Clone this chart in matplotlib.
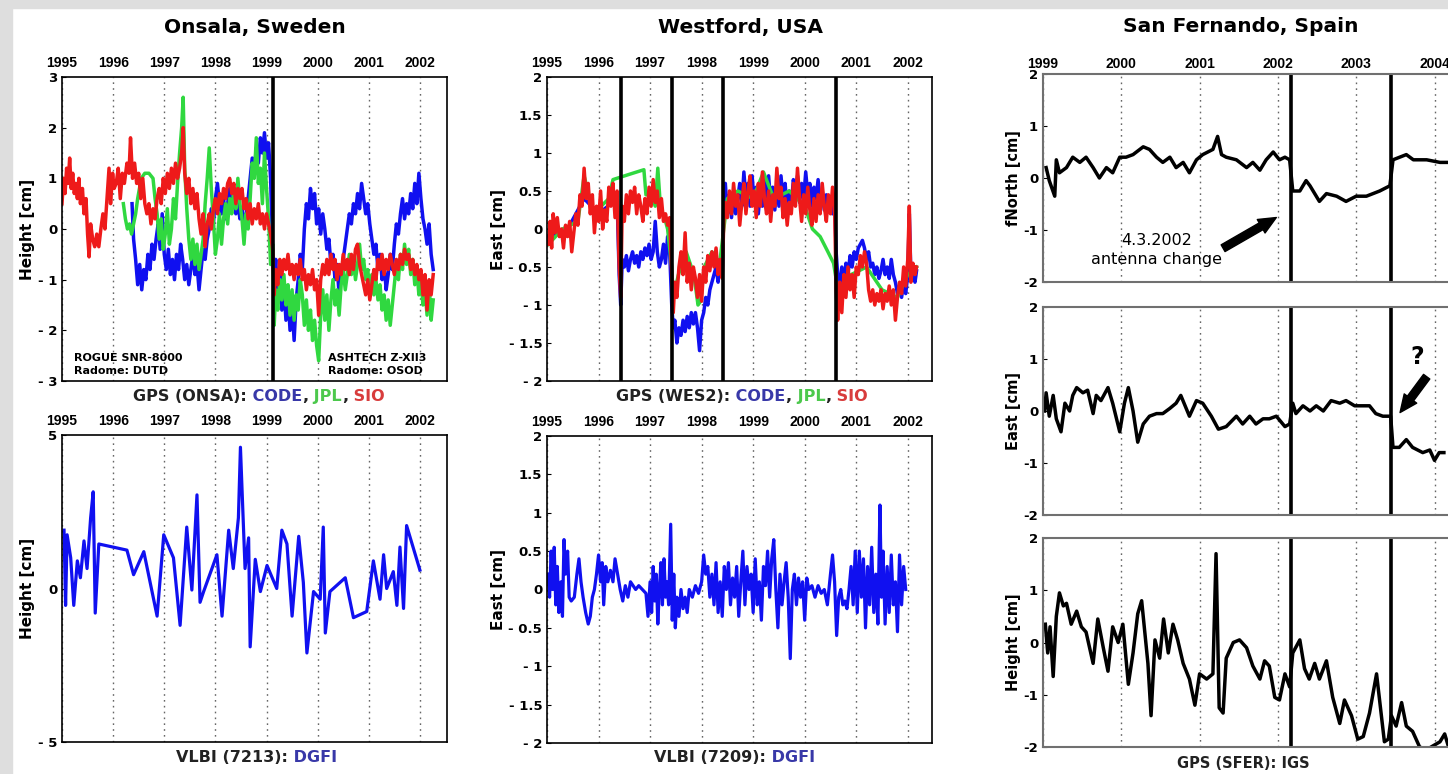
import matplotlib
matplotlib.use('Agg')
import matplotlib.pyplot as plt
from matplotlib.offsetbox import TextArea, HPacker, AnnotationBbox
from matplotlib.patches import Rectangle

# ---------------- data ----------------
# Onsala GPS height [cm]
onsa_sio_t = [1995.00, 1995.03, 1995.06, 1995.09, 1995.12, 1995.15, 1995.18, 1995.21, 1995.24, 1995.27,
              1995.30, 1995.33, 1995.36, 1995.40, 1995.43, 1995.47, 1995.50, 1995.53, 1995.56, 1995.60,
              1995.64, 1995.68, 1995.72, 1995.76, 1995.80, 1995.84, 1995.88, 1995.92, 1995.95, 1995.99,
              1996.02, 1996.06, 1996.10, 1996.14, 1996.18, 1996.22, 1996.27, 1996.31, 1996.34, 1996.38,
              1996.42, 1996.46, 1996.50, 1996.54, 1996.58, 1996.62, 1996.66, 1996.70, 1996.74, 1996.78,
              1996.82, 1996.86, 1996.90, 1996.94, 1996.98, 1997.02, 1997.06, 1997.10, 1997.14, 1997.18,
              1997.22, 1997.26, 1997.30, 1997.34, 1997.37, 1997.40, 1997.44, 1997.48, 1997.52, 1997.56,
              1997.60, 1997.64, 1997.68, 1997.72, 1997.76, 1997.80, 1997.84, 1997.88, 1997.92, 1997.96,
              1998.00, 1998.04, 1998.08, 1998.12, 1998.16, 1998.20, 1998.24, 1998.28, 1998.32, 1998.36,
              1998.40, 1998.44, 1998.48, 1998.52, 1998.56, 1998.60, 1998.64, 1998.68, 1998.72, 1998.76,
              1998.80, 1998.84, 1998.88, 1998.92, 1998.96, 1999.00, 1999.04, 1999.08, 1999.12, 1999.15,
              1999.18, 1999.22, 1999.26, 1999.30, 1999.34, 1999.38, 1999.42, 1999.46, 1999.50, 1999.54,
              1999.58, 1999.62, 1999.66, 1999.70, 1999.74, 1999.78, 1999.82, 1999.86, 1999.90, 1999.94,
              1999.98, 2000.02, 2000.06, 2000.10, 2000.14, 2000.18, 2000.22, 2000.26, 2000.30, 2000.34,
              2000.38, 2000.42, 2000.46, 2000.50, 2000.54, 2000.58, 2000.62, 2000.66, 2000.70, 2000.74,
              2000.78, 2000.82, 2000.86, 2000.90, 2000.94, 2000.98, 2001.02, 2001.06, 2001.10, 2001.14,
              2001.18, 2001.22, 2001.26, 2001.30, 2001.34, 2001.38, 2001.42, 2001.46, 2001.50, 2001.54,
              2001.58, 2001.62, 2001.66, 2001.70, 2001.74, 2001.78, 2001.82, 2001.86, 2001.90, 2001.94,
              2001.98, 2002.02, 2002.06, 2002.10, 2002.14, 2002.18, 2002.22, 2002.26]
onsa_sio_v = [0.5, 1.0, 0.7, 1.2, 0.9, 1.4, 0.8, 1.1, 0.7, 0.9,
              0.6, 1.0, 0.5, 0.8, 0.3, 0.6, -0.1, -0.55, 0.1, -0.2,
              -0.35, -0.1, -0.35, 0.0, 0.3, 0.0, 0.6, 1.2, 0.5, 1.1,
              0.8, 0.9, 1.2, 0.6, 1.1, 0.9, 1.3, 1.1, 1.8, 1.0,
              1.3, 0.9, 1.1, 0.6, 1.0, 0.5, 0.3, 0.5, 0.1, 0.4,
              0.2, 0.6, 0.8, 0.5, 1.0, 0.7, 1.1, 0.8, 1.2, 0.9,
              1.3, 1.0, 1.2, 1.5, 2.0, 1.1, 0.7, 1.0, 0.5, 0.8,
              0.4, 0.7, 0.2, -0.1, 0.3, -0.35, 0.1, 0.3, 0.0, 0.4,
              0.6, 0.3, 0.7, 0.5, 0.8, 0.6, 0.9, 1.0, 0.7, 0.9,
              0.5, 0.8, 0.6, 0.8, 0.4, 0.6, 0.2, 0.5, 0.1, 0.4,
              0.2, 0.5, 0.1, 0.3, 0.0, 0.3, 0.1, -0.1, -0.4, -1.3,
              -0.8, -1.1, -0.6, -0.9, -0.6, -0.8, -0.5, -0.9, -0.7, -1.0,
              -0.7, -0.9, -0.6, -1.0, -0.8, -1.2, -0.9, -1.1, -0.8, -1.2,
              -1.0, -1.7, -1.0, -0.7, -0.9, -0.6, -0.9, -0.5, -0.8, -0.6,
              -1.0, -0.7, -0.9, -0.5, -0.8, -0.6, -0.9, -0.5, -0.8, -0.4,
              -0.3, -0.7, -0.9, -1.1, -1.3, -1.0, -1.4, -1.1, -0.8, -1.0,
              -0.6, -0.8, -0.5, -0.9, -0.6, -0.8, -0.5, -0.7, -0.9, -0.6,
              -0.8, -0.5, -0.7, -0.4, -0.6, -0.5, -0.8, -0.6, -0.9, -0.7,
              -1.0, -0.8, -1.3, -0.9, -1.6, -1.0, -1.3, -0.9]

onsa_code_t = [1996.37, 1996.40, 1996.44, 1996.48, 1996.52, 1996.56, 1996.60, 1996.64, 1996.68, 1996.72,
               1996.76, 1996.80, 1996.84, 1996.88, 1996.92, 1996.96, 1997.00, 1997.04, 1997.08, 1997.12,
               1997.16, 1997.20, 1997.24, 1997.28, 1997.32, 1997.36, 1997.40, 1997.44, 1997.48, 1997.52,
               1997.56, 1997.60, 1997.64, 1997.68, 1997.72, 1997.76, 1997.80, 1997.84, 1997.88, 1997.92,
               1997.96, 1998.00, 1998.04, 1998.08, 1998.12, 1998.16, 1998.20, 1998.24, 1998.28, 1998.32,
               1998.36, 1998.40, 1998.44, 1998.48, 1998.52, 1998.56, 1998.60, 1998.64, 1998.68, 1998.72,
               1998.76, 1998.80, 1998.84, 1998.88, 1998.92, 1998.96, 1999.00, 1999.04, 1999.08, 1999.12,
               1999.15, 1999.18, 1999.22, 1999.26, 1999.30, 1999.34, 1999.38, 1999.42, 1999.46, 1999.50,
               1999.54, 1999.58, 1999.62, 1999.66, 1999.70, 1999.74, 1999.78, 1999.82, 1999.86, 1999.90,
               1999.94, 1999.98, 2000.02, 2000.06, 2000.10, 2000.14, 2000.18, 2000.22, 2000.26, 2000.30,
               2000.34, 2000.38, 2000.42, 2000.46, 2000.50, 2000.54, 2000.58, 2000.62, 2000.66, 2000.70,
               2000.74, 2000.78, 2000.82, 2000.86, 2000.90, 2000.94, 2000.98, 2001.02, 2001.06, 2001.10,
               2001.14, 2001.18, 2001.22, 2001.26, 2001.30, 2001.34, 2001.38, 2001.42, 2001.46, 2001.50,
               2001.54, 2001.58, 2001.62, 2001.66, 2001.70, 2001.74, 2001.78, 2001.82, 2001.86, 2001.90,
               2001.94, 2001.98, 2002.02, 2002.06, 2002.10, 2002.14, 2002.18, 2002.22, 2002.26]
onsa_code_v = [0.5, -0.2, -0.6, -1.1, -0.7, -1.2, -0.8, -1.0, -0.5, -0.8,
               -0.3, -0.6, -0.2, 0.1, -0.4, 0.3, -0.5, -0.8, -0.4, -0.9,
               -0.6, -1.0, -0.5, -0.8, -0.3, -0.6, -1.0, -0.7, -1.1, -0.8,
               -0.5, -0.9, -0.7, -1.2, -0.8, -0.4, -0.6, -0.2, 0.0, 0.4,
               0.1, 0.6, 0.9, 0.5, 0.3, 0.6, 0.2, 0.5, 0.8, 0.4,
               0.7, 0.3, 0.5, 0.2, 0.4, 0.0, 0.3, 0.6, 1.0, 1.4,
               1.1, 1.6, 1.3, 1.8, 1.5, 1.9, 1.4, 1.7, 1.0, -0.5,
               -1.0, -0.6, -1.3, -0.9, -1.6, -1.1, -1.8, -1.3, -2.0, -1.5,
               -2.2, -1.4, -1.0, -0.5, -0.8, 0.0, 0.5, 0.2, 0.8, 0.4,
               0.7, 0.1, 0.4, -0.1, 0.3, 0.0, -0.4, -0.2, -0.7, -0.5,
               -1.0, -0.7, -1.3, -0.9, -0.6, -0.3, 0.0, 0.3, 0.1, 0.5,
               0.3, 0.7, 0.4, 0.9, 0.6, 0.3, 0.5, 0.1, -0.2, -0.5,
               -0.3, -0.8, -0.5, -1.0, -0.7, -1.2, -0.9, -0.5, -0.8, -0.3,
               0.1, -0.1, 0.3, 0.6, 0.2, 0.5, 0.3, 0.7, 0.4, 0.9,
               0.5, 1.1, 0.6, 0.2, 0.0, -0.3, 0.1, -0.5, -0.8]

onsa_jpl_t = [1996.20, 1996.24, 1996.28, 1996.32, 1996.36, 1996.40, 1996.44, 1996.48, 1996.55, 1996.62,
              1996.70, 1996.78, 1996.82, 1996.86, 1996.90, 1996.94, 1996.98, 1997.02, 1997.06, 1997.10,
              1997.14, 1997.18, 1997.22, 1997.26, 1997.30, 1997.34, 1997.37, 1997.40, 1997.44, 1997.48,
              1997.52, 1997.56, 1997.60, 1997.64, 1997.68, 1997.72, 1997.76, 1997.80, 1997.84, 1997.88,
              1997.92, 1997.96, 1998.00, 1998.04, 1998.08, 1998.12, 1998.16, 1998.20, 1998.24, 1998.28,
              1998.32, 1998.36, 1998.40, 1998.44, 1998.48, 1998.52, 1998.56, 1998.60, 1998.64, 1998.68,
              1998.72, 1998.76, 1998.80, 1998.84, 1998.88, 1998.92, 1998.96, 1999.00, 1999.04, 1999.08,
              1999.12, 1999.15, 1999.18, 1999.22, 1999.26, 1999.30, 1999.34, 1999.38, 1999.42, 1999.46,
              1999.50, 1999.54, 1999.58, 1999.62, 1999.66, 1999.70, 1999.74, 1999.78, 1999.82, 1999.86,
              1999.90, 1999.94, 1999.98, 2000.02, 2000.06, 2000.10, 2000.14, 2000.18, 2000.22, 2000.26,
              2000.30, 2000.34, 2000.38, 2000.42, 2000.46, 2000.50, 2000.54, 2000.58, 2000.62, 2000.66,
              2000.70, 2000.74, 2000.78, 2000.82, 2000.86, 2000.90, 2000.94, 2000.98, 2001.02, 2001.06,
              2001.10, 2001.14, 2001.18, 2001.22, 2001.26, 2001.30, 2001.34, 2001.38, 2001.42, 2001.46,
              2001.50, 2001.54, 2001.58, 2001.62, 2001.66, 2001.70, 2001.74, 2001.78, 2001.82, 2001.86,
              2001.90, 2001.94, 2001.98, 2002.02, 2002.06, 2002.10, 2002.14, 2002.18, 2002.22, 2002.26]
onsa_jpl_v = [0.5, 0.2, 0.0, 0.1, -0.1, 0.1, 0.3, 0.6, 1.0, 1.1,
              1.1, 1.0, 0.6, 0.3, -0.2, 0.2, -0.4, -0.1, 0.4, -0.3,
              0.0, 0.6, 0.2, 0.9, 1.5, 2.0, 2.6, 1.2, 0.4, -0.2,
              -0.6, -0.2, -0.7, -0.3, -0.8, -0.5, -0.2, 0.5, 1.0, 1.6,
              0.8, 0.2, -0.5, -0.2, 0.3, -0.3, 0.2, 0.5, 0.1, 0.6,
              0.3, 0.8, 0.4, 1.0, 0.5, 0.2, -0.3, 0.3, 0.0, 0.6,
              1.3, 1.0, 1.8, 0.9, 1.2, 0.5, 1.5, 0.8, 0.2, -0.7,
              -0.3, -1.9, -1.2, -1.6, -1.0, -1.4, -0.9, -1.5, -1.1, -1.7,
              -1.2, -1.8, -1.3, -1.6, -1.0, -1.3, -1.9, -1.4, -2.0, -1.6,
              -2.2, -1.8, -2.3, -2.6, -1.7, -1.2, -1.8, -1.3, -2.0, -1.4,
              -1.0, -1.5, -1.2, -1.7, -1.1, -0.8, -1.2, -0.9, -0.5, -0.9,
              -0.6, -1.0, -0.7, -0.3, -0.8, -0.6, -1.0, -0.8, -1.2, -0.9,
              -1.3, -1.0, -1.4, -1.1, -1.6, -1.3, -1.8, -1.4, -1.9, -1.5,
              -1.1, -0.7, -1.0, -0.5, -0.8, -0.3, -0.7, -0.4, -0.9, -0.6,
              -1.1, -0.8, -1.3, -1.0, -1.5, -1.2, -1.7, -1.1, -1.8, -1.4]

# Onsala VLBI height [cm]
onsa_vlbi_t = [1995.04, 1995.07, 1995.10, 1995.17, 1995.23, 1995.30, 1995.36, 1995.43, 1995.49, 1995.56,
               1995.61, 1995.65, 1995.72, 1996.27, 1996.40, 1996.60, 1996.86, 1996.99, 1997.18, 1997.31,
               1997.44, 1997.54, 1997.64, 1997.70, 1997.77, 1998.03, 1998.13, 1998.26, 1998.35, 1998.45,
               1998.49, 1998.58, 1998.65, 1998.68, 1998.78, 1998.88, 1999.01, 1999.20, 1999.30, 1999.40,
               1999.50, 1999.63, 1999.72, 1999.79, 1999.92, 2000.05, 2000.11, 2000.15, 2000.24, 2000.54,
               2000.70, 2000.96, 2001.09, 2001.22, 2001.29, 2001.35, 2001.48, 2001.55, 2001.61, 2001.68,
               2001.74, 2002.00]
onsa_vlbi_v = [1.9, -0.55, 1.75, 1.0, -0.55, 0.9, 0.35, 1.55, 0.65, 2.3,
               3.15, -0.8, 1.45, 1.25, 0.45, 1.2, -0.9, 1.75, 1.0, -1.2,
               2.0, -0.05, 3.05, -0.45, -0.1, 1.1, -0.9, 1.9, 0.65, 2.3,
               4.6, 0.65, 1.65, -1.9, 0.95, -0.1, 0.75, 0.0, 1.9, 1.45,
               -0.9, 1.7, 0.2, -2.1, -0.1, -0.35, 2.0, -1.45, -0.1, 0.35,
               -0.95, -0.75, 0.9, -0.35, 1.1, 0.0, 0.55, -0.55, 1.35, -0.65,
               2.05, 0.6]

# Westford GPS east [cm]
wes_sio_t = [1995.03, 1995.06, 1995.09, 1995.12, 1995.16, 1995.20, 1995.24, 1995.28, 1995.32, 1995.36,
             1995.40, 1995.44, 1995.48, 1995.52, 1995.56, 1995.60, 1995.64, 1995.68, 1995.72, 1995.76,
             1995.80, 1995.84, 1995.88, 1995.92, 1995.96, 1996.00, 1996.04, 1996.08, 1996.12, 1996.16,
             1996.20, 1996.24, 1996.28, 1996.32, 1996.36, 1996.40, 1996.43, 1996.46, 1996.50, 1996.54,
             1996.58, 1996.62, 1996.66, 1996.70, 1996.74, 1996.78, 1996.82, 1996.86, 1996.90, 1996.94,
             1996.98, 1997.02, 1997.06, 1997.10, 1997.14, 1997.18, 1997.22, 1997.26, 1997.30, 1997.34,
             1997.38, 1997.42, 1997.45, 1997.48, 1997.52, 1997.56, 1997.60, 1997.64, 1997.68, 1997.72,
             1997.76, 1997.80, 1997.84, 1997.88, 1997.92, 1997.96, 1998.00, 1998.04, 1998.08, 1998.12,
             1998.16, 1998.20, 1998.24, 1998.28, 1998.32, 1998.36, 1998.40, 1998.43, 1998.46, 1998.50,
             1998.54, 1998.58, 1998.62, 1998.66, 1998.70, 1998.74, 1998.78, 1998.82, 1998.86, 1998.90,
             1998.94, 1998.98, 1999.02, 1999.06, 1999.10, 1999.14, 1999.18, 1999.22, 1999.26, 1999.30,
             1999.34, 1999.38, 1999.42, 1999.46, 1999.50, 1999.54, 1999.58, 1999.62, 1999.66, 1999.70,
             1999.74, 1999.78, 1999.82, 1999.86, 1999.90, 1999.94, 1999.98, 2000.02, 2000.06, 2000.10,
             2000.14, 2000.18, 2000.22, 2000.26, 2000.30, 2000.34, 2000.38, 2000.42, 2000.46, 2000.50,
             2000.54, 2000.58, 2000.61, 2000.64, 2000.68, 2000.72, 2000.76, 2000.80, 2000.84, 2000.88,
             2000.92, 2000.96, 2001.00, 2001.04, 2001.08, 2001.12, 2001.16, 2001.20, 2001.24, 2001.28,
             2001.32, 2001.36, 2001.40, 2001.44, 2001.48, 2001.52, 2001.56, 2001.60, 2001.64, 2001.68,
             2001.72, 2001.76, 2001.80, 2001.84, 2001.88, 2001.92, 2001.96, 2002.00, 2002.03, 2002.06,
             2002.10, 2002.14, 2002.17]
wes_sio_v = [-0.2, 0.1, -0.25, 0.2, -0.05, 0.15, -0.1, 0.0, -0.25, 0.05,
             -0.1, 0.1, -0.3, -0.05, 0.2, 0.05, 0.45, 0.3, 0.8, 0.4,
             0.6, 0.2, 0.45, -0.05, 0.3, 0.1, 0.5, 0.0, 0.25, 0.1,
             0.55, 0.3, 0.6, 0.15, 0.5, -0.5, -0.9, 0.3, 0.1, 0.45,
             0.2, 0.5, 0.35, 0.55, 0.2, 0.45, 0.3, 0.1, 0.4, 0.2,
             0.55, 0.3, 0.65, 0.35, 0.5, 0.15, 0.4, 0.1, 0.2, 0.05,
             0.15, -0.6, -1.1, -0.7, -0.9, -0.5, -0.3, -0.6, -0.05, -0.7,
             -0.45, -0.8, -0.5, -0.65, -0.9, -0.6, -0.95, -0.5, -0.7, -0.35,
             -0.55, -0.3, -0.5, -0.25, -0.6, -0.4, -0.65, 0.1, 0.35, 0.15,
             0.5, 0.2, 0.6, 0.3, 0.45, 0.05, 0.35, 0.6, 0.2, 0.5,
             0.7, 0.3, 0.5, 0.15, 0.6, 0.3, 0.75, 0.4, 0.2, 0.5,
             0.1, 0.45, 0.3, 0.8, 0.4, 0.55, 0.15, 0.4, 0.05, 0.35,
             0.2, 0.6, 0.3, 0.8, 0.4, 0.1, 0.45, 0.2, 0.55, 0.25,
             0.05, 0.4, 0.1, 0.45, 0.2, 0.6, 0.3, 0.1, 0.45, 0.2,
             0.55, 0.3, -0.8, -1.2, -0.7, -1.1, -0.6, -0.9, -0.5, -0.8,
             -0.6, -0.9, -0.5, -0.6, -0.35, -0.5, -0.3, -0.45, -0.8, -0.95,
             -0.8, -1.0, -0.85, -0.95, -0.8, -1.05, -0.85, -0.95, -0.75, -1.0,
             -0.8, -1.2, -0.9, -0.7, -0.85, -0.5, -0.75, -0.4, 0.3, -0.7,
             -0.45, -0.6, -0.5]

wes_code_t = [1995.03, 1995.40, 1995.72, 1996.00, 1996.36, 1996.40, 1996.43, 1996.46, 1996.50, 1996.54,
              1996.58, 1996.62, 1996.66, 1996.70, 1996.74, 1996.78, 1996.82, 1996.86, 1996.90, 1996.94,
              1996.98, 1997.02, 1997.06, 1997.10, 1997.14, 1997.18, 1997.22, 1997.26, 1997.30, 1997.34,
              1997.38, 1997.42, 1997.45, 1997.48, 1997.52, 1997.56, 1997.60, 1997.64, 1997.68, 1997.72,
              1997.76, 1997.80, 1997.84, 1997.88, 1997.92, 1997.96, 1998.00, 1998.04, 1998.08, 1998.12,
              1998.16, 1998.20, 1998.24, 1998.28, 1998.32, 1998.36, 1998.40, 1998.43, 1998.46, 1998.50,
              1998.54, 1998.58, 1998.62, 1998.66, 1998.70, 1998.74, 1998.78, 1998.82, 1998.86, 1998.90,
              1998.94, 1998.98, 1999.02, 1999.06, 1999.10, 1999.14, 1999.18, 1999.22, 1999.26, 1999.30,
              1999.34, 1999.38, 1999.42, 1999.46, 1999.50, 1999.54, 1999.58, 1999.62, 1999.66, 1999.70,
              1999.74, 1999.78, 1999.82, 1999.86, 1999.90, 1999.94, 1999.98, 2000.02, 2000.06, 2000.10,
              2000.14, 2000.18, 2000.22, 2000.26, 2000.30, 2000.34, 2000.38, 2000.42, 2000.46, 2000.50,
              2000.54, 2000.58, 2000.61, 2000.64, 2000.68, 2000.72, 2000.76, 2000.80, 2000.84, 2000.88,
              2000.92, 2000.96, 2001.00, 2001.04, 2001.08, 2001.12, 2001.16, 2001.20, 2001.24, 2001.28,
              2001.32, 2001.36, 2001.40, 2001.44, 2001.48, 2001.52, 2001.56, 2001.60, 2001.64, 2001.68,
              2001.72, 2001.76, 2001.80, 2001.84, 2001.88, 2001.92, 2001.96, 2002.00, 2002.03, 2002.06,
              2002.10, 2002.14, 2002.17]
wes_code_v = [-0.1, 0.0, 0.4, 0.2, 0.4, -0.6, -1.0, -0.4, -0.5, -0.35,
              -0.55, -0.4, -0.3, -0.45, -0.35, -0.5, -0.3, -0.4, -0.25, -0.35,
              -0.2, -0.4, -0.3, 0.1, -0.3, -0.5, -0.4, -0.2, -0.45, -0.1,
              -0.3, -1.0, -1.3, -1.2, -1.5, -1.3, -1.4, -1.2, -1.35, -1.15,
              -1.3, -1.1, -1.25, -1.1, -1.3, -1.6, -1.2, -1.1, -0.9, -1.0,
              -0.8, -0.7, -0.6, -0.5, -0.7, -0.4, -0.6, 0.3, 0.6, 0.2,
              0.45, 0.15, 0.5, 0.2, 0.4, 0.6, 0.3, 0.75, 0.4, 0.6,
              0.3, 0.7, 0.35, 0.55, 0.2, 0.5, 0.3, 0.65, 0.4, 0.7,
              0.35, 0.55, 0.25, 0.6, 0.3, 0.7, 0.4, 0.6, 0.25, 0.5,
              0.3, 0.65, 0.45, 0.7, 0.35, 0.6, 0.4, 0.75, 0.45, 0.6,
              0.3, 0.55, 0.4, 0.65, 0.35, 0.5, 0.25, 0.45, 0.3, 0.35,
              0.2, 0.4, -0.3, -0.6, -0.75, -0.5, -0.7, -0.45, -0.6, -0.35,
              -0.5, -0.3, -0.4, -0.25, -0.2, -0.15, -0.25, -0.4, -0.3, -0.5,
              -0.45, -0.6, -0.5, -0.65, -0.55, -0.4, -0.6, -0.5, -0.65, -0.4,
              -0.6, -0.7, -0.85, -0.75, -0.9, -0.7, -0.85, -0.6, 0.2, -0.6,
              -0.5, -0.7, -0.55]

wes_jpl_t = [1995.03, 1995.30, 1995.60, 1995.72, 1995.90, 1996.20, 1996.28, 1996.60, 1996.88, 1996.92,
             1997.00, 1997.10, 1997.15, 1997.20, 1997.30, 1997.34, 1997.42, 1997.45, 1997.55, 1997.70,
             1997.85, 1997.93, 1997.98, 1998.05, 1998.20, 1998.35, 1998.43, 1998.50, 1998.70, 1999.00,
             1999.20, 1999.40, 1999.70, 2000.00, 2000.15, 2000.30, 2000.45, 2000.56, 2000.62, 2000.70,
             2000.90, 2001.20, 2001.50, 2001.80, 2002.00, 2002.17]
wes_jpl_v = [-0.2, 0.0, 0.1, 0.7, 0.2, 0.4, 0.65, 0.72, 0.78, 0.45,
             0.5, 0.3, 0.8, 0.3, 0.1, 0.0, -0.5, -0.9, -0.6, -0.3,
             -0.6, -1.0, -0.95, -0.5, -0.3, -0.45, 0.0, 0.4, 0.5, 0.4,
             0.75, 0.4, 0.5, 0.3, 0.0, -0.1, -0.3, -0.45, -0.7, -0.9,
             -0.6, -0.5, -0.8, -0.9, -0.6, -0.5]

# Westford VLBI east [cm]
wes_vlbi_t = [1995.02, 1995.05, 1995.08, 1995.11, 1995.14, 1995.17, 1995.20, 1995.23, 1995.27, 1995.30,
              1995.33, 1995.36, 1995.40, 1995.43, 1995.47, 1995.53, 1995.58, 1995.62, 1995.66, 1995.70,
              1995.75, 1995.80, 1995.84, 1995.88, 1995.92, 1995.96, 1996.00, 1996.04, 1996.07, 1996.10,
              1996.14, 1996.18, 1996.23, 1996.28, 1996.32, 1996.37, 1996.42, 1996.47, 1996.52, 1996.57,
              1996.62, 1996.67, 1996.72, 1996.78, 1996.85, 1996.92, 1996.96, 1997.00, 1997.03, 1997.06,
              1997.09, 1997.12, 1997.15, 1997.18, 1997.21, 1997.24, 1997.27, 1997.30, 1997.33, 1997.36,
              1997.40, 1997.43, 1997.46, 1997.49, 1997.52, 1997.56, 1997.60, 1997.64, 1997.68, 1997.72,
              1997.76, 1997.82, 1997.88, 1997.94, 1998.00, 1998.04, 1998.08, 1998.12, 1998.16, 1998.20,
              1998.24, 1998.28, 1998.32, 1998.36, 1998.40, 1998.44, 1998.48, 1998.52, 1998.56, 1998.60,
              1998.64, 1998.68, 1998.72, 1998.76, 1998.80, 1998.84, 1998.88, 1998.92, 1998.96, 1999.00,
              1999.04, 1999.08, 1999.12, 1999.16, 1999.20, 1999.24, 1999.28, 1999.32, 1999.36, 1999.40,
              1999.44, 1999.48, 1999.52, 1999.56, 1999.60, 1999.64, 1999.68, 1999.72, 1999.76, 1999.80,
              1999.84, 1999.88, 1999.92, 1999.96, 2000.00, 2000.04, 2000.08, 2000.14, 2000.20, 2000.26,
              2000.32, 2000.38, 2000.44, 2000.50, 2000.54, 2000.58, 2000.62, 2000.66, 2000.70, 2000.74,
              2000.78, 2000.82, 2000.86, 2000.90, 2000.94, 2000.98, 2001.02, 2001.06, 2001.10, 2001.14,
              2001.18, 2001.22, 2001.26, 2001.30, 2001.34, 2001.38, 2001.42, 2001.46, 2001.49, 2001.52,
              2001.56, 2001.60, 2001.64, 2001.68, 2001.72, 2001.76, 2001.80, 2001.84, 2001.88, 2001.92,
              2001.96]
wes_vlbi_v = [0.2, -0.1, 0.5, 0.0, 0.55, -0.2, 0.3, -0.3, 0.1, -0.35,
              0.65, 0.2, 0.5, -0.1, -0.15, -0.1, 0.2, 0.4, 0.1, -0.1,
              -0.3, -0.45, -0.35, -0.1, 0.0, 0.2, 0.45, 0.1, 0.35, -0.2,
              0.3, 0.1, 0.25, 0.1, 0.4, 0.2, 0.0, -0.15, 0.05, -0.1,
              0.1, 0.05, 0.0, 0.05, 0.0, -0.05, -0.35, 0.1, -0.3, 0.3,
              -0.15, 0.2, -0.45, 0.0, 0.35, -0.2, 0.4, -0.1, 0.1, -0.2,
              0.85, -0.4, 0.2, -0.5, -0.1, -0.35, 0.0, -0.25, -0.1, -0.3,
              0.0, -0.1, 0.05, -0.05, 0.1, 0.45, 0.2, 0.3, -0.1, 0.2,
              -0.2, 0.35, -0.3, 0.1, -0.35, 0.3, 0.0, 0.35, -0.2, 0.15,
              -0.1, 0.3, -0.35, 0.1, 0.5, -0.2, 0.3, 0.0, 0.2, -0.3,
              0.4, -0.2, 0.1, -0.4, 0.3, 0.05, 0.5, -0.1, 0.4, 0.65,
              0.0, -0.5, 0.2, -0.2, 0.1, 0.35, -0.1, -0.9, 0.0, 0.2,
              -0.2, 0.15, -0.1, 0.1, -0.4, 0.15, 0.0, 0.05, -0.1, 0.05,
              -0.05, 0.0, -0.2, 0.2, 0.45, 0.1, -0.6, -0.1, 0.0, -0.2,
              -0.15, -0.25, 0.0, 0.3, -0.2, 0.5, -0.3, 0.5, -0.1, 0.4,
              -0.5, 0.3, -0.2, 0.55, -0.3, 0.2, -0.45, 1.1, -0.1, 0.5,
              -0.45, 0.3, -0.3, 0.45, -0.2, 0.1, -0.55, 0.45, -0.2, 0.3,
              0.0]

# San Fernando GPS (IGS) [cm]
sfer_n_t = [1999.04, 1999.08, 1999.15, 1999.17, 1999.21, 1999.30, 1999.38, 1999.47, 1999.55, 1999.64,
            1999.72, 1999.81, 1999.89, 1999.98, 2000.06, 2000.15, 2000.28, 2000.36, 2000.45, 2000.53,
            2000.62, 2000.70, 2000.79, 2000.87, 2000.96, 2001.04, 2001.17, 2001.23, 2001.28, 2001.34,
            2001.47, 2001.60, 2001.68, 2001.77, 2001.85, 2001.94, 2002.02, 2002.09, 2002.15, 2002.19,
            2002.28, 2002.36, 2002.41, 2002.53, 2002.62, 2002.75, 2002.87, 2003.00, 2003.13, 2003.30,
            2003.43, 2003.47, 2003.64, 2003.73, 2003.90, 2004.07, 2004.17]
sfer_n_v = [0.2, -0.05, -0.35, 0.35, 0.1, 0.2, 0.4, 0.3, 0.4, 0.2,
            0.0, 0.2, 0.1, 0.4, 0.4, 0.45, 0.6, 0.55, 0.4, 0.3,
            0.4, 0.2, 0.3, 0.1, 0.35, 0.45, 0.55, 0.8, 0.45, 0.4,
            0.35, 0.2, 0.3, 0.15, 0.35, 0.5, 0.35, 0.4, 0.35, -0.25,
            -0.25, -0.05, -0.15, -0.45, -0.3, -0.35, -0.45, -0.35, -0.35, -0.25,
            -0.15, 0.35, 0.45, 0.35, 0.35, 0.3, 0.3]

sfer_e_t = [1999.02, 1999.04, 1999.08, 1999.13, 1999.17, 1999.23, 1999.28, 1999.34, 1999.38, 1999.43,
            1999.51, 1999.57, 1999.64, 1999.68, 1999.74, 1999.83, 1999.89, 1999.98, 2000.04, 2000.09,
            2000.15, 2000.21, 2000.28, 2000.36, 2000.45, 2000.53, 2000.62, 2000.70, 2000.76, 2000.87,
            2000.96, 2001.04, 2001.15, 2001.24, 2001.34, 2001.47, 2001.55, 2001.64, 2001.72, 2001.81,
            2001.89, 2001.98, 2002.09, 2002.15, 2002.19, 2002.23, 2002.32, 2002.41, 2002.49, 2002.58,
            2002.68, 2002.79, 2002.87, 2002.98, 2003.08, 2003.17, 2003.25, 2003.34, 2003.40, 2003.44,
            2003.47, 2003.55, 2003.64, 2003.72, 2003.85, 2003.94, 2004.00, 2004.06, 2004.12]
sfer_e_v = [0.0, 0.35, -0.1, 0.3, -0.15, -0.4, 0.15, 0.0, 0.3, 0.45,
            0.35, 0.4, -0.05, 0.3, 0.2, 0.45, 0.15, -0.4, 0.15, 0.45,
            0.0, -0.6, -0.25, -0.1, -0.05, -0.05, 0.05, 0.15, 0.3, -0.1,
            0.2, 0.15, -0.1, -0.35, -0.3, -0.1, -0.25, -0.1, -0.25, -0.15,
            -0.15, -0.1, -0.3, -0.25, 0.15, -0.05, 0.1, 0.0, 0.1, 0.0,
            0.2, 0.15, 0.2, 0.1, 0.1, 0.1, -0.05, -0.1, -0.1, -0.1,
            -0.7, -0.7, -0.55, -0.7, -0.8, -0.75, -0.95, -0.8, -0.8]

sfer_h_t = [1999.03, 1999.06, 1999.09, 1999.13, 1999.17, 1999.21, 1999.26, 1999.30, 1999.36, 1999.43,
            1999.49, 1999.55, 1999.64, 1999.70, 1999.77, 1999.83, 1999.89, 1999.96, 2000.02, 2000.09,
            2000.15, 2000.21, 2000.26, 2000.30, 2000.34, 2000.38, 2000.43, 2000.49, 2000.54, 2000.60,
            2000.66, 2000.72, 2000.79, 2000.87, 2000.94, 2001.00, 2001.09, 2001.17, 2001.21, 2001.25,
            2001.30, 2001.34, 2001.43, 2001.51, 2001.60, 2001.68, 2001.77, 2001.83, 2001.89, 2001.96,
            2002.02, 2002.09, 2002.15, 2002.19, 2002.28, 2002.34, 2002.40, 2002.47, 2002.53, 2002.62,
            2002.70, 2002.79, 2002.85, 2002.94, 2003.02, 2003.09, 2003.17, 2003.26, 2003.31, 2003.36,
            2003.41, 2003.45, 2003.51, 2003.58, 2003.64, 2003.72, 2003.81, 2003.90, 2004.07, 2004.13,
            2004.17]
sfer_h_v = [0.35, -0.2, 0.3, -0.65, 0.5, 0.95, 0.7, 0.75, 0.35, 0.6,
            0.3, 0.2, -0.4, 0.45, -0.1, -0.55, 0.3, 0.0, 0.35, -0.8,
            -0.2, 0.55, 0.8, 0.2, -0.4, -1.4, 0.05, -0.3, 0.45, -0.2,
            0.35, 0.05, -0.4, -0.7, -1.2, -0.6, -0.7, -0.6, 1.7, -1.25,
            -1.35, -0.3, 0.0, 0.05, -0.1, -0.45, -0.7, -0.35, -0.45, -1.05,
            -1.1, -0.6, -0.85, -0.2, 0.05, -0.5, -0.7, -0.4, -0.7, -0.35,
            -1.05, -1.55, -1.1, -1.4, -1.85, -1.8, -1.35, -0.6, -1.25, -1.9,
            -1.85, -1.4, -1.6, -1.15, -1.6, -1.7, -2.0, -2.05, -1.9, -1.75,
            -1.95]

onsa_breaks = [1999.12]
wes_breaks = [1996.43, 1997.42, 1998.42, 2000.60]
sfer_breaks = [2002.17, 2003.45]

years_9502 = [1995, 1996, 1997, 1998, 1999, 2000, 2001, 2002]
years_9904 = [1999, 2000, 2001, 2002, 2003, 2004]

# ---------------- drawing ----------------
W, H = 1448, 774
plt.rcParams['font.family'] = ['DejaVu Sans']
plt.rcParams['font.weight'] = 'bold'
plt.rcParams['axes.labelweight'] = 'bold'

BLUE = '#1010f0'
GREEN = '#30d840'
RED = '#ee1a1a'
TXT_BLUE = '#3838a8'
TXT_GREEN = '#4cc84c'
TXT_RED = '#d83c3c'
DARK = '#222222'

fig = plt.figure(figsize=(W / 100, H / 100), dpi=100, facecolor='white')
# light grey paper edges
fig.add_artist(Rectangle((0, 0), 12 / W, 1, transform=fig.transFigure, color='#dedede', zorder=-5))
fig.add_artist(Rectangle((0, 1 - 8 / H), 1, 8 / H, transform=fig.transFigure, color='#dedede', zorder=-5))


def box(x0, y0, x1, y1):
    return [x0 / W, 1 - y1 / H, (x1 - x0) / W, (y1 - y0) / H]


def setup(ax, xlim, years, show_years, ylim, yticks, ylabel, spine='k'):
    ax.set_xlim(xlim)
    ax.set_ylim(ylim)
    ax.set_xticks(years)
    ax.xaxis.set_ticks_position('top')
    if show_years:
        ax.set_xticklabels([str(y) for y in years], fontsize=10, family='Liberation Sans',
                           fontweight='bold')
    else:
        ax.set_xticklabels([])
    ax.tick_params(axis='x', length=0, pad=5)
    ax.set_yticks(yticks)
    ax.set_yticklabels([('%g' % v).replace('-', '- ') if spine == 'k' else '%g' % v for v in yticks],
                       fontsize=9.5, fontweight='bold')
    ax.tick_params(axis='y', direction='in', length=3, width=0.8)
    ax.grid(axis='x', color='#666666', linestyle=(0, (1.2, 3)), linewidth=1.0)
    ax.set_axisbelow(True)
    ax.set_ylabel(ylabel, fontsize=11, labelpad=2, fontweight='bold')
    for s in ax.spines.values():
        s.set_color(spine)
        s.set_linewidth(1.2 if spine == 'k' else 1.5)


def colored_text(x, y, parts, size=11.5):
    areas = [TextArea(s, textprops=dict(color=c, fontsize=size, fontweight='bold')) for s, c in parts]
    pack = HPacker(children=areas, align='baseline', pad=0, sep=0)
    ab = AnnotationBbox(pack, (x / W, 1 - y / H), xycoords='figure fraction',
                        frameon=False, box_alignment=(0.5, 0.5), pad=0)
    fig.add_artist(ab)


# ----- Onsala -----
ax1 = fig.add_axes(box(62, 77, 447, 381))
setup(ax1, (1995, 2002.53), years_9502, True, (-3, 3), [-3, -2, -1, 0, 1, 2, 3], 'Height [cm]')
ax1.plot(onsa_code_t, onsa_code_v, color=BLUE, lw=2.5)
ax1.plot(onsa_jpl_t, onsa_jpl_v, color=GREEN, lw=2.5)
ax1.plot(onsa_sio_t, onsa_sio_v, color=RED, lw=2.5)
for b in onsa_breaks:
    ax1.axvline(b, color='k', lw=2.6)
ax1.text(0.03, 0.018, 'ROGUE SNR-8000\nRadome: DUTD', transform=ax1.transAxes,
         fontsize=8, ha='left', va='bottom', linespacing=1.35)
ax1.text(0.69, 0.018, 'ASHTECH Z-XII3\nRadome: OSOD', transform=ax1.transAxes,
         fontsize=8, ha='left', va='bottom', linespacing=1.35)

ax2 = fig.add_axes(box(62, 435, 447, 742))
setup(ax2, (1995, 2002.53), years_9502, True, (-5, 5), [-5, 0, 5], 'Height [cm]')
ax2.plot(onsa_vlbi_t, onsa_vlbi_v, color=BLUE, lw=2.3)

# ----- Westford -----
ax3 = fig.add_axes(box(547, 77, 932, 381))
setup(ax3, (1995, 2002.47), years_9502, True, (-2, 2),
      [-2, -1.5, -1, -0.5, 0, 0.5, 1, 1.5, 2], 'East [cm]')
ax3.plot(wes_code_t, wes_code_v, color=BLUE, lw=2.5)
ax3.plot(wes_jpl_t, wes_jpl_v, color=GREEN, lw=2.5)
ax3.plot(wes_sio_t, wes_sio_v, color=RED, lw=2.5)
for b in wes_breaks:
    ax3.axvline(b, color='k', lw=2.6)

ax4 = fig.add_axes(box(547, 436, 932, 743))
setup(ax4, (1995, 2002.47), years_9502, True, (-2, 2),
      [-2, -1.5, -1, -0.5, 0, 0.5, 1, 1.5, 2], 'East [cm]')
ax4.plot(wes_vlbi_t, wes_vlbi_v, color=BLUE, lw=2.3)

# ----- San Fernando -----
sf_right = 1043 + 5.6 * 78.3
ax5 = fig.add_axes(box(1043, 74, sf_right, 282))
ax6 = fig.add_axes(box(1043, 307, sf_right, 515))
ax7 = fig.add_axes(box(1043, 538, sf_right, 747))
for ax, t, v, lab, first in [(ax5, sfer_n_t, sfer_n_v, 'fNorth [cm]', True),
                             (ax6, sfer_e_t, sfer_e_v, 'East [cm]', False),
                             (ax7, sfer_h_t, sfer_h_v, 'Height [cm]', False)]:
    setup(ax, (1999, 2004.6), years_9904, first, (-2, 2), [-2, -1, 0, 1, 2], lab, spine='#707070')
    ax.tick_params(axis='x', pad=2)
    ax.plot(t, v, color='k', lw=2.5)
    for b in sfer_breaks:
        ax.axvline(b, color='k', lw=2.6)
    ax.yaxis.label.set_fontsize(10.5)

ax5.text(2000.45, -1.2, '4.3.2002', ha='center', va='center', fontsize=11.5, fontweight='normal')
ax5.text(2000.45, -1.56, 'antenna change', ha='center', va='center', fontsize=11.5, fontweight='normal')
ax5.annotate('', xy=(2001.98, -0.76), xytext=(2001.3, -1.35),
             arrowprops=dict(arrowstyle='simple,head_length=0.9,head_width=0.8,tail_width=0.4',
                             color='k', shrinkA=0, shrinkB=0, mutation_scale=14))
ax6.text(2003.78, 1.04, '?', ha='center', va='center', fontsize=17)
ax6.annotate('', xy=(2003.56, -0.03), xytext=(2003.9, 0.66),
             arrowprops=dict(arrowstyle='simple,head_length=0.9,head_width=0.8,tail_width=0.4',
                             color='k', shrinkA=0, shrinkB=0, mutation_scale=14))

# ----- titles and captions -----
fig.text(255 / W, 1 - 27 / H, 'Onsala, Sweden', ha='center', va='center', fontsize=14.5)
fig.text(741 / W, 1 - 27 / H, 'Westford, USA', ha='center', va='center', fontsize=14.5)
fig.text(1241 / W, 1 - 27 / H, 'San Fernando, Spain', ha='center', va='center', fontsize=14.5)

colored_text(259, 397, [('GPS (ONSA):', DARK), (' CODE', TXT_BLUE), (',', DARK),
                        (' JPL', TXT_GREEN), (',', DARK), (' SIO', TXT_RED)])
colored_text(257, 758, [('VLBI (7213):', DARK), (' DGFI', TXT_BLUE)])
colored_text(742, 397, [('GPS (WES2):', DARK), (' CODE', TXT_BLUE), (',', DARK),
                        (' JPL', TXT_GREEN), (',', DARK), (' SIO', TXT_RED)])
colored_text(735, 758, [('VLBI (7209):', DARK), (' DGFI', TXT_BLUE)])
colored_text(1243, 763, [('GPS (SFER): IGS', DARK)], size=10.5)

fig.savefig('out.png', dpi=100)
